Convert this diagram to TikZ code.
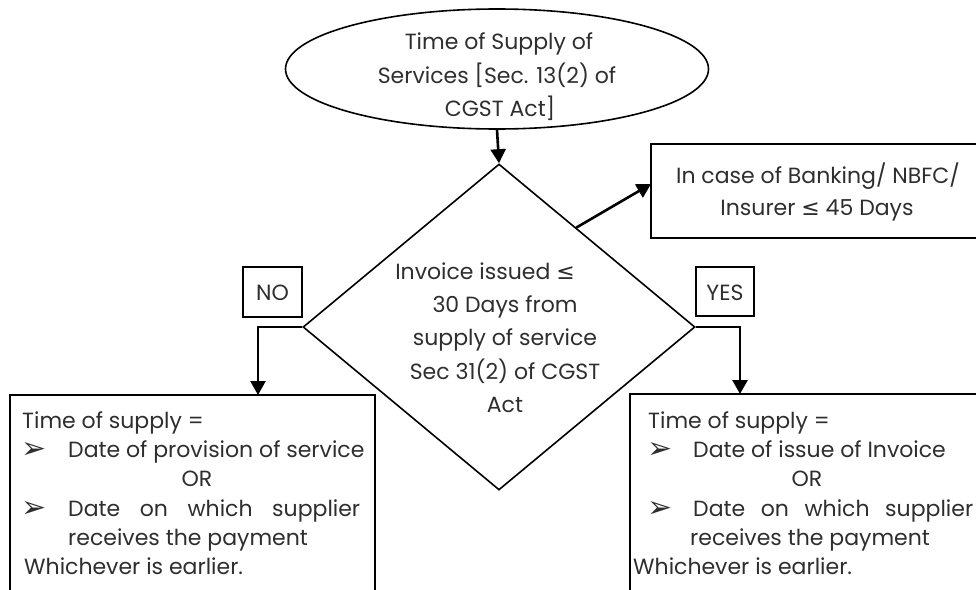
\documentclass[tikz,border=0pt]{standalone}
\usepackage{fontspec}
\setmainfont{Poppins}
\newfontfamily\symf{DejaVu Sans}
\usetikzlibrary{shapes.geometric,arrows.meta,calc}
\definecolor{txt}{HTML}{2E2E2E}
\newcommand{\leqs}{{\symf ≤}}
\newcommand{\bul}{{\symf\fontsize{30}{30}\selectfont ➢}}
\tikzset{
  shp/.style={draw=black,line width=1.6pt,inner sep=0pt},
  lbl/.style={inner sep=0pt,text=txt,font=\fontsize{22}{25}\selectfont},
  conn/.style={line width=2.6pt,-{Triangle[length=14pt,width=15pt]}},
}
\begin{document}
\begin{tikzpicture}[x=1pt,y=-1pt]
\useasboundingbox (0,0) rectangle (976,589);
\clip (0,0) rectangle (976,589);
% shapes
\node[shp,ellipse,minimum width=423pt,minimum height=120pt] (top) at (497,69) {};
\node[shp,diamond,minimum width=392pt,minimum height=326pt] (dia) at (499,327) {};
\node[shp,rectangle,minimum width=360pt,minimum height=94pt] (bank) at (831,191) {};
\node[shp,rectangle,minimum width=59pt,minimum height=50pt] (no) at (272.5,292) {};
\node[shp,rectangle,minimum width=58pt,minimum height=49pt] (yes) at (725,291.5) {};
\node[shp,rectangle,minimum width=365pt,minimum height=230pt] (lbox) at (192.5,510) {};
\node[shp,rectangle,minimum width=370pt,minimum height=230pt] (rbox) at (815,509) {};
% texts
\node[lbl,anchor=base] (t1) at (499,49) {Time of Supply of};
\node[lbl,anchor=base] (t2) at (497,83) {Services [Sec. 13(2) of};
\node[lbl,anchor=base] (t3) at (500,116) {CGST Act]};
\node[lbl,anchor=base] (d1) at (485,279) {Invoice issued \leqs};
\node[lbl,anchor=base] (d2) at (505,312) {30 Days from};
\node[lbl,anchor=base] (d3) at (505,345) {supply of service};
\node[lbl,anchor=base] (d4) at (505,379) {Sec 31(2) of CGST};
\node[lbl,anchor=base] (d5) at (505,412) {Act};
\node[lbl,anchor=base] (b1) at (818,183) {In case of Banking/ NBFC/};
\node[lbl,anchor=base] (b2) at (817,215) {Insurer \leqs\ 45 Days};
\node[lbl,anchor=base] (nol) at (272.5,300) {NO};
\node[lbl,anchor=base] (yesl) at (725,300) {YES};
% left box text
\node[lbl,anchor=base west] (l1) at (22,428) {Time of supply =};
\node[lbl,anchor=base west] (lb1) at (21,458) {\bul};
\node[lbl,anchor=base west] (l2) at (68,457) {Date of provision of service};
\node[lbl,anchor=base] (l3) at (197,486) {OR};
\node[lbl,anchor=base west] (lb2) at (21,517) {\bul};
\node[lbl,anchor=base west] (l4) at (68,516) {\hbox to 292pt{Date\hfill on\hfill which\hfill supplier}};
\node[lbl,anchor=base west] (l5) at (68,545) {receives the payment};
\node[lbl,anchor=base west] (l6) at (24,574) {Whichever is earlier.};
% right box text
\node[lbl,anchor=base west] (r1) at (648,428) {Time of supply =};
\node[lbl,anchor=base west] (rb1) at (647,458) {\bul};
\node[lbl,anchor=base west] (r2) at (693,457) {Date of issue of Invoice};
\node[lbl,anchor=base] (r3) at (807,486) {OR};
\node[lbl,anchor=base west] (rb2) at (647,517) {\bul};
\node[lbl,anchor=base west] (r4) at (693,516) {\hbox to 280pt{Date\hfill on\hfill which\hfill supplier}};
\node[lbl,anchor=base west] (r5) at (690,545) {receives the payment};
\node[lbl,anchor=base west] (r6) at (633,574) {Whichever is earlier.};
% connectors
\coordinate (noend) at (258,395);
\coordinate (yesend) at (740,394);
\coordinate (dstart) at ($(dia.north)!0.393!(dia.east)$);
\coordinate (bankend) at (651,184);
\draw[conn] (top.south) -- (dia.north);
\draw[conn] (dstart) -- (bankend);
\draw[conn] (dia.west) -| (noend);
\draw[conn] (dia.east) -| (yesend);
\end{tikzpicture}
\end{document}
